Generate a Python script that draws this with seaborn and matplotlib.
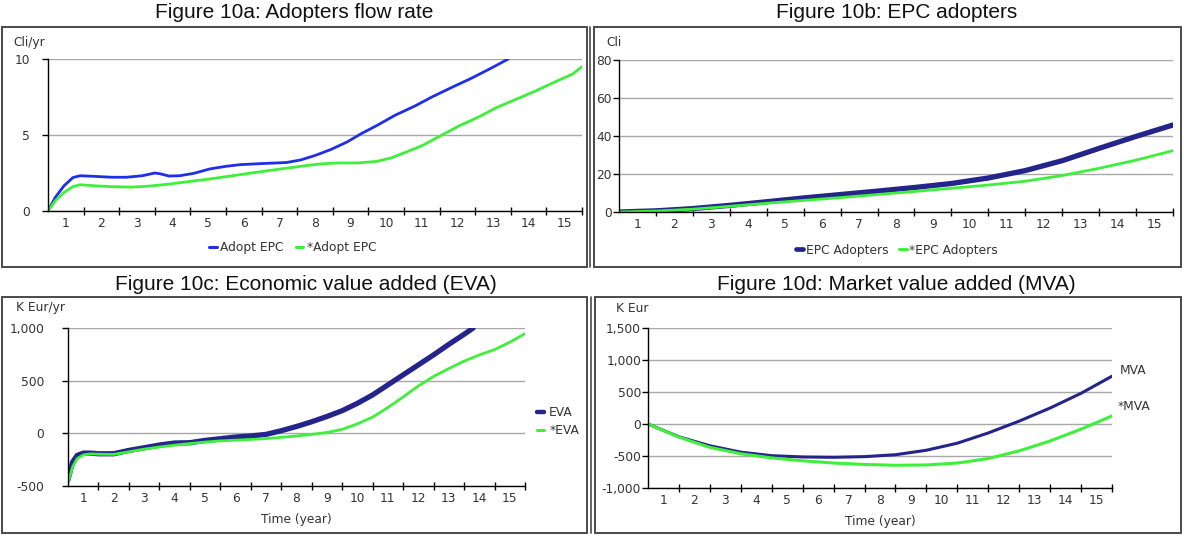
import numpy as np
import pandas as pd
import matplotlib
matplotlib.use("Agg")
import matplotlib.pyplot as plt
from matplotlib.lines import Line2D
from matplotlib.patches import Rectangle
import seaborn as sns

# ---------------- data ----------------
# Figure 10a: adopters flow rate (Cli/yr)
adopt_t = [0, 0.2, 0.45, 0.7, 0.9, 1.3, 1.8, 2.2, 2.65, 3.0, 3.15, 3.4, 3.7, 4.1, 4.55,
           5.0, 5.4, 6.0, 6.7, 7.1, 7.5, 7.95, 8.4, 8.8, 9.25, 9.75, 10.3, 10.8, 11.35,
           11.9, 12.4, 12.93]
adopt_epc = [0, 0.88, 1.66, 2.2, 2.32, 2.28, 2.22, 2.22, 2.32, 2.5, 2.45, 2.3, 2.32, 2.48,
             2.77, 2.94, 3.05, 3.12, 3.19, 3.36, 3.65, 4.05, 4.54, 5.09, 5.64, 6.3, 6.9,
             7.52, 8.14, 8.74, 9.34, 10.0]
adopt_star_t = [0, 0.2, 0.45, 0.7, 0.9, 1.3, 1.8, 2.35, 2.85, 3.4, 3.9, 4.45, 5.0, 5.5,
                6.05, 6.55, 7.1, 7.65, 8.15, 8.7, 9.25, 9.65, 10.05, 10.5, 11.05, 11.55,
                12.1, 12.6, 13.15, 13.7, 14.2, 14.75, 15.0]
adopt_epc_star = [0, 0.66, 1.22, 1.6, 1.73, 1.66, 1.6, 1.57, 1.64, 1.77, 1.92, 2.08, 2.26,
                  2.43, 2.61, 2.77, 2.94, 3.1, 3.16, 3.16, 3.27, 3.5, 3.87, 4.29, 4.98,
                  5.6, 6.19, 6.81, 7.35, 7.9, 8.45, 9.03, 9.5]

# Figure 10b: EPC adopters (Cli)
years = list(range(0, 16))
epc_adopters = [0, 0.6, 1.8, 3.5, 5.4, 7.4, 9.2, 11.0, 12.9, 15.0, 17.9, 21.8, 27.0,
                33.5, 39.8, 45.8]
epc_adopters_star = [0, 0.5, 1.5, 3.0, 4.6, 6.1, 7.6, 9.2, 10.8, 12.5, 14.2, 16.2, 19.2,
                     23.0, 27.3, 32.3]

# Figure 10c: economic value added (K Eur/yr)
eva_t = [0, 0.15, 0.3, 0.5, 0.75, 1.0, 1.5, 2.0, 2.5, 3.0, 3.5, 4.0, 4.5, 5.0, 5.5, 6.0,
         6.5, 7.0, 7.5, 8.0, 8.5, 9.0, 9.5, 10.0, 10.5, 11.0, 11.5, 12.0, 12.5, 13.0, 13.3]
eva = [-440, -274, -210, -188, -188, -194, -194, -162, -137, -111, -92, -89, -67, -51,
       -35, -25, -10, 25, 65, 110, 160, 215, 285, 365, 460, 555, 650, 745, 845, 940, 1000]
eva_star_t = [0, 0.15, 0.3, 0.5, 0.75, 1.0, 1.5, 2.0, 2.5, 3.0, 3.5, 4.0, 4.5, 5.0, 5.5,
              6.0, 6.5, 7.0, 7.5, 8.0, 8.5, 9.0, 9.5, 10.0, 10.5, 11.0, 11.5, 12.0, 12.5,
              13.0, 13.5, 14.0, 14.5, 15.0]
eva_star = [-470, -320, -240, -205, -195, -198, -200, -175, -150, -130, -112, -97, -83,
            -72, -65, -58, -50, -38, -25, -10, 8, 38, 90, 155, 245, 345, 450, 540, 615,
            685, 745, 795, 865, 946]

# Figure 10d: market value added (K Eur)
mva = [0, -200, -340, -440, -495, -515, -520, -510, -480, -410, -300, -140, 45, 250,
       480, 747]
mva_star = [0, -205, -365, -465, -530, -575, -610, -632, -645, -640, -610, -540, -420,
            -265, -80, 126]

x_labels = [str(i) for i in range(1, 16)]

# ---------------- style ----------------
sns.set_theme(style="white")
plt.rcParams["font.family"] = ["DejaVu Sans"]

W, H = 1184, 536
fig = plt.figure(figsize=(W / 100, H / 100), dpi=100)
fig.patch.set_facecolor("white")

BLUE = "#1f2ee8"
NAVY = "#24248a"
GREEN = "#3ef03a"
TXT = "#333333"
TICK_FS = 8.8
TITLE_FS = 15
TITLE_FONT = "Liberation Sans"


def fx(x):
    return x / W


def fy(y):
    return 1 - y / H


def panel_box(x0, y0, x1, y1):
    fig.patches.append(Rectangle((fx(x0), fy(y1)), fx(x1) - fx(x0), fy(y0) - fy(y1),
                                 transform=fig.transFigure, fill=False,
                                 edgecolor="#4a4a4a", lw=1.4, zorder=0))


def make_axes(x0, y0, x1, y1):
    return fig.add_axes([fx(x0), fy(y1), fx(x1) - fx(x0), fy(y0) - fy(y1)])


def style_axes(ax, ylim, yticks, ylabels, ypad):
    ax.set_facecolor("none")
    ax.set_xlim(0, 15)
    ax.set_ylim(*ylim)
    for s in ("top", "right"):
        ax.spines[s].set_visible(False)
    for s in ("left", "bottom"):
        ax.spines[s].set_color("black")
        ax.spines[s].set_linewidth(1.0)
    ax.set_yticks(yticks)
    ax.set_yticklabels(ylabels)
    ax.yaxis.grid(True, color="#a8a8a8", lw=1.0)
    ax.xaxis.grid(False)
    ax.set_axisbelow(True)
    ax.set_xticks(np.arange(1, 16))
    ax.set_xticklabels([])
    ax.set_xticks(np.arange(0.5, 15, 1.0), minor=True)
    ax.set_xticklabels(x_labels, minor=True)
    ax.tick_params(axis="x", which="major", direction="inout", length=6, width=1,
                   color="black", bottom=True)
    ax.tick_params(axis="x", which="minor", length=0, pad=4, labelsize=TICK_FS,
                   labelcolor=TXT, bottom=True)
    ax.tick_params(axis="y", direction="out", length=4, width=1, color="black",
                   pad=ypad, labelsize=TICK_FS, labelcolor=TXT, left=True)
    ax.set_xlabel("")
    ax.set_ylabel("")


def draw(ax, t, v, color, lw):
    sns.lineplot(x=t, y=v, ax=ax, color=color, lw=lw, legend=False,
                 estimator=None, sort=False, solid_capstyle="round",
                 solid_joinstyle="round")


def title(x, y, s):
    fig.text(fx(x), fy(y), s, ha="center", va="center", fontsize=TITLE_FS,
             family=TITLE_FONT, color="#111111")


# ---------------- Figure 10a ----------------
panel_box(2, 27, 587, 267)
title(294, 13, "Figure 10a: Adopters flow rate")
ax = make_axes(48, 59, 582, 211)
draw(ax, adopt_t, adopt_epc, BLUE, 2.0)
draw(ax, adopt_star_t, adopt_epc_star, GREEN, 2.0)
style_axes(ax, (0, 10), [0, 5, 10], ["0", "5", "10"], 9)
fig.text(fx(13), fy(42), "Cli/yr", ha="left", va="center", fontsize=TICK_FS, color=TXT)
ax.legend(handles=[Line2D([], [], color=BLUE, lw=2.2), Line2D([], [], color=GREEN, lw=2.2)],
          labels=["Adopt EPC", "*Adopt EPC"], loc="center", ncol=2,
          bbox_to_anchor=(fx(293), fy(248)), bbox_transform=fig.transFigure,
          frameon=False, fontsize=TICK_FS, handlelength=0.6, handletextpad=0.3,
          columnspacing=1.0, labelcolor=TXT)

# ---------------- Figure 10b ----------------
panel_box(594, 27, 1181, 267)
fig.add_artist(Line2D([fx(590), fx(590)], [fy(27), fy(267)], transform=fig.transFigure,
                      color="#4a4a4a", lw=1.2))
title(897, 13, "Figure 10b: EPC adopters")
ax = make_axes(619, 60, 1173, 212)
draw(ax, years, epc_adopters, NAVY, 3.8)
draw(ax, years, epc_adopters_star, GREEN, 2.0)
style_axes(ax, (0, 80), [0, 20, 40, 60, 80], ["0", "20", "40", "60", "80"], 1)
fig.text(fx(606), fy(42), "Cli", ha="left", va="center", fontsize=TICK_FS, color=TXT)
ax.legend(handles=[Line2D([], [], color=NAVY, lw=3.4), Line2D([], [], color=GREEN, lw=2.2)],
          labels=["EPC Adopters", "*EPC Adopters"], loc="center", ncol=2,
          bbox_to_anchor=(fx(897), fy(250)), bbox_transform=fig.transFigure,
          frameon=False, fontsize=TICK_FS, handlelength=0.6, handletextpad=0.2,
          columnspacing=0.9, labelcolor=TXT)

# ---------------- Figure 10c ----------------
panel_box(2, 297, 587, 533)
title(306, 284, "Figure 10c: Economic value added (EVA)")
ax = make_axes(68, 328, 525, 486)
draw(ax, eva_t, eva, NAVY, 3.8)
draw(ax, eva_star_t, eva_star, GREEN, 2.0)
style_axes(ax, (-500, 1000), [-500, 0, 500, 1000], ["-500", "0", "500", "1,000"], 13)
ax.set_xlabel("Time (year)", fontsize=TICK_FS, color=TXT, labelpad=6)
fig.text(fx(16), fy(308), "K Eur/yr", ha="left", va="center", fontsize=TICK_FS, color=TXT)
ax.legend(handles=[Line2D([], [], color=NAVY, lw=3.2), Line2D([], [], color=GREEN, lw=2.2)],
          labels=["EVA", "*EVA"], loc="upper left",
          bbox_to_anchor=(fx(526), fy(395)), bbox_transform=fig.transFigure,
          frameon=False, fontsize=TICK_FS, handlelength=0.6, handletextpad=0.4,
          labelspacing=0.4, labelcolor=TXT)

# ---------------- Figure 10d ----------------
panel_box(595, 297, 1181, 533)
fig.add_artist(Line2D([fx(591), fx(591)], [fy(297), fy(533)], transform=fig.transFigure,
                      color="#4a4a4a", lw=1.2))
title(896, 284, "Figure 10d: Market value added (MVA)")
ax = make_axes(648, 328, 1112, 488)
draw(ax, years, mva, NAVY, 2.2)
draw(ax, years, mva_star, GREEN, 2.2)
style_axes(ax, (-1000, 1500), [-1000, -500, 0, 500, 1000, 1500],
           ["-1,000", "-500", "0", "500", "1,000", "1,500"], 1)
ax.set_xlabel("Time (year)", fontsize=TICK_FS, color=TXT, labelpad=6)
fig.text(fx(616), fy(309), "K Eur", ha="left", va="center", fontsize=TICK_FS, color=TXT)
fig.text(fx(1120), fy(370), "MVA", ha="left", va="center", fontsize=TICK_FS, color=TXT)
fig.text(fx(1118), fy(407), "*MVA", ha="left", va="center", fontsize=TICK_FS, color=TXT)

fig.savefig("out.png", dpi=100, facecolor="white")
